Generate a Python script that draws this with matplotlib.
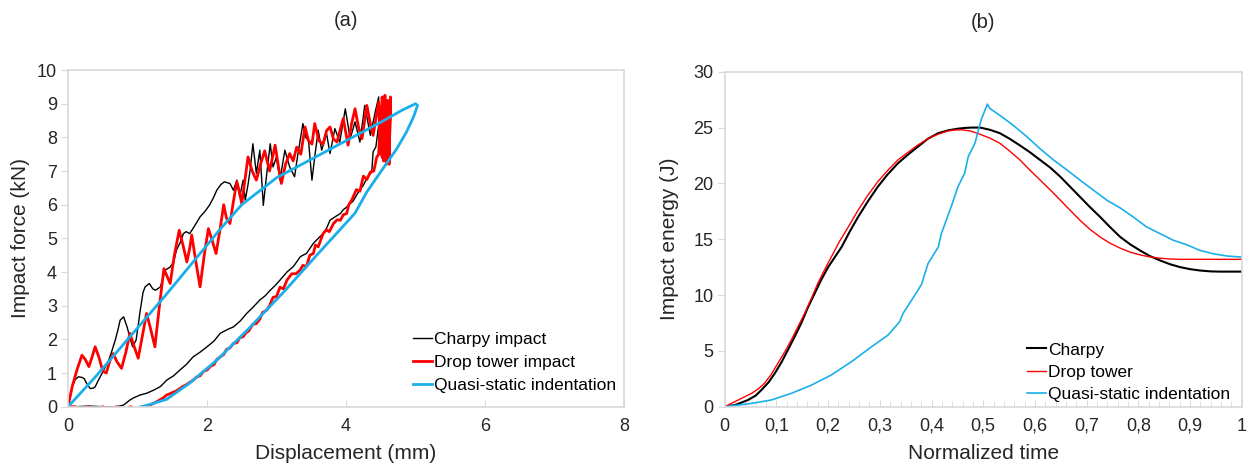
import matplotlib
matplotlib.use('Agg')
import matplotlib.pyplot as plt

plt.rcParams['font.family'] = ['Liberation Sans', 'DejaVu Sans']

# ---- (a) force vs displacement ----
charpy_x = [0, 0.06, 0.1, 0.15, 0.2, 0.23, 0.28, 0.32, 0.36, 0.39, 0.44, 0.49, 0.54, 0.585, 0.63, 0.68, 0.72,
            0.75, 0.8, 0.85, 0.9, 0.93, 0.98, 1.04, 1.08, 1.11, 1.17, 1.22, 1.26, 1.33, 1.4, 1.47, 1.52, 1.56,
            1.62, 1.66, 1.7, 1.75, 1.8, 1.86, 1.9, 1.97, 2.04, 2.1, 2.14, 2.2, 2.25, 2.3, 2.33, 2.38, 2.43, 2.47,
            2.52, 2.55, 2.59, 2.62, 2.66, 2.71, 2.76, 2.81, 2.86, 2.91, 2.95, 3.0, 3.05, 3.12, 3.19, 3.26, 3.3,
            3.34, 3.38, 3.42, 3.46, 3.51, 3.55, 3.6, 3.65, 3.72, 3.77, 3.84, 3.91, 3.99, 4.06, 4.13, 4.2, 4.27,
            4.35, 4.42, 4.47, 4.47, 4.43, 4.39, 4.37, 4.3, 4.25, 4.18, 4.1, 4.04, 4.01, 3.96, 3.92, 3.85, 3.77,
            3.72, 3.67, 3.6, 3.53, 3.48, 3.43, 3.38, 3.34, 3.29, 3.24, 3.15, 3.05, 2.98, 2.91, 2.84, 2.76, 2.66,
            2.57, 2.48, 2.38, 2.3, 2.19, 2.1, 2.0, 1.9, 1.8, 1.7, 1.61, 1.52, 1.42, 1.33, 1.23, 1.13, 1.04, 0.95,
            0.89, 0.8, 0.7, 0.5, 0.3, 0.1]
charpy_y = [0, 0.59, 0.8, 0.89, 0.87, 0.84, 0.65, 0.54, 0.55, 0.59, 0.8, 0.99, 1.2, 1.38, 1.65, 1.98, 2.3,
            2.57, 2.67, 2.37, 1.98, 1.78, 1.98, 2.87, 3.4, 3.56, 3.66, 3.5, 3.46, 3.56, 4.06, 4.15, 4.3, 4.65,
            4.9, 5.14, 5.2, 5.14, 5.3, 5.5, 5.64, 5.8, 6.0, 6.24, 6.43, 6.6, 6.68, 6.65, 6.63, 6.43, 6.73, 6.23,
            6.73, 6.13, 6.6, 7.02, 7.81, 6.93, 7.62, 5.98, 6.93, 7.81, 7.12, 7.42, 6.73, 7.62, 7.12, 6.83, 7.4,
            7.91, 8.41, 8.0, 7.91, 6.73, 7.42, 8.21, 7.62, 8.11, 7.52, 8.26, 7.86, 8.85, 7.96, 8.46, 7.86, 8.95,
            8.06, 8.75, 9.2, 8.36, 7.72, 7.57, 6.97, 6.78, 6.58, 6.38, 6.1, 6.0, 5.93, 5.85, 5.74, 5.65, 5.54,
            5.3, 5.14, 5.0, 4.85, 4.7, 4.55, 4.5, 4.45, 4.3, 4.16, 4.0, 3.76, 3.6, 3.46, 3.3, 3.17, 2.95,
            2.77, 2.55, 2.37, 2.3, 2.18, 1.95, 1.78, 1.62, 1.48, 1.25, 1.09, 0.92, 0.79, 0.6, 0.49, 0.4, 0.35, 0.27,
            0.2, 0.05, 0.0, 0.0, 0.02, 0.0]

drop_x = [0, 0.06, 0.13, 0.2, 0.25, 0.3, 0.35, 0.39, 0.44, 0.5, 0.55, 0.6, 0.65, 0.7, 0.77, 0.83, 0.89, 0.95,
          1.01, 1.07, 1.13, 1.19, 1.25, 1.31, 1.38, 1.43, 1.47, 1.53, 1.6, 1.66, 1.71, 1.75, 1.78, 1.84, 1.9,
          1.96, 2.02, 2.08, 2.13, 2.19, 2.24, 2.28, 2.33, 2.38, 2.43, 2.47, 2.5, 2.55, 2.59, 2.65, 2.71, 2.77,
          2.83, 2.9, 2.98, 3.03, 3.07, 3.13, 3.19, 3.24, 3.29, 3.35, 3.41, 3.46, 3.51, 3.55, 3.61, 3.67, 3.72,
          3.77, 3.82, 3.87, 3.96, 4.03, 4.08, 4.13, 4.18, 4.23, 4.3, 4.35, 4.39, 4.47, 4.5, 4.52, 4.54, 4.56,
          4.58, 4.6, 4.62, 4.64, 4.62, 4.6, 4.57, 4.55, 4.52, 4.5, 4.47, 4.44, 4.4, 4.35, 4.3, 4.25, 4.2, 4.15,
          4.08, 4.04, 4.01, 3.96, 3.92, 3.87, 3.82, 3.76, 3.72, 3.67, 3.6, 3.56, 3.53, 3.48, 3.43, 3.38, 3.34,
          3.28, 3.22, 3.15, 3.1, 3.05, 3.0, 2.95, 2.9, 2.86, 2.8, 2.76, 2.71, 2.66, 2.6, 2.56, 2.52, 2.47, 2.43,
          2.38, 2.33, 2.28, 2.24, 2.19, 2.14, 2.1, 2.05, 2.0, 1.95, 1.9, 1.85, 1.8, 1.75, 1.7, 1.65, 1.61, 1.55,
          1.5, 1.46, 1.42, 1.37, 1.32, 1.25, 1.18, 1.08, 1.0, 0.9, 0.8, 0.7, 0.6, 0.5, 0.4, 0.3, 0.2, 0.1, 0.03]
drop_y = [0, 0.6, 1.1, 1.53, 1.4, 1.19, 1.5, 1.78, 1.5, 1.06, 1.0, 1.35, 1.58, 1.35, 1.14, 1.6, 2.18, 1.8,
          1.44, 2.1, 2.77, 2.3, 1.78, 2.9, 4.1, 3.85, 3.66, 4.5, 5.24, 4.75, 4.3, 4.7, 5.1, 4.3, 3.56,
          4.5, 5.29, 4.9, 4.55, 5.3, 6.0, 5.6, 5.44, 6.1, 6.68, 6.35, 6.03, 6.8, 7.42, 7.0, 6.73, 7.2,
          7.6, 7.0, 7.77, 7.1, 6.63, 7.2, 7.52, 7.3, 7.71, 7.5, 8.31, 7.9, 7.8, 8.41, 7.9, 7.8, 8.2,
          8.31, 7.95, 7.86, 8.56, 7.77, 8.4, 8.85, 8.3, 7.96, 8.95, 8.4, 8.06, 9.05, 7.5, 9.2, 7.3, 9.25,
          7.2, 9.1, 7.4, 9.2, 7.2, 9.0, 7.3, 9.1, 7.4, 8.9, 7.5, 7.4, 7.0, 6.97, 6.75, 6.85, 6.4, 6.45,
          6.13, 6.0, 5.74, 5.7, 5.54, 5.55, 5.44, 5.2, 5.25, 5.14, 4.75, 4.8, 4.55, 4.5, 4.16, 4.2, 4.06,
          3.95, 3.95, 3.76, 3.5, 3.55, 3.27, 3.25, 3.0, 2.87, 2.8, 2.6, 2.47, 2.45, 2.25, 2.2, 2.08, 2.05, 1.9,
          1.88, 1.75, 1.7, 1.55, 1.48, 1.4, 1.25, 1.2, 1.09, 1.05, 0.92, 0.88, 0.79, 0.72, 0.65, 0.6, 0.54, 0.46,
          0.42, 0.38, 0.35, 0.26, 0.2, 0.12, 0.05, 0.0, -0.1, 0.0, -0.1, 0.0, -0.1, 0.0, -0.1, 0.0, -0.1, 0.0, 0.0]

quasi_x = [0, 0.4, 0.9, 1.4, 1.9, 2.2, 2.5, 3.0, 3.5, 4.0, 4.5, 4.8, 5.0, 5.03,
           4.97, 4.87, 4.73, 4.5, 4.3, 4.13, 3.6, 3.1, 2.6, 2.15, 1.75, 1.42, 1.1, 1.05]
quasi_y = [0, 0.9, 2.1, 3.3, 4.55, 5.3, 6.0, 6.8, 7.35, 7.9, 8.45, 8.8, 9.0, 8.95,
           8.6, 8.16, 7.66, 6.98, 6.38, 5.75, 4.55, 3.4, 2.32, 1.4, 0.7, 0.22, 0.02, 0]

# ---- (b) energy vs normalized time ----
charpy_t = [0, 0.02, 0.045, 0.06, 0.071, 0.085, 0.097, 0.11, 0.122, 0.135, 0.148, 0.16, 0.174, 0.187, 0.2,
            0.213, 0.226, 0.242, 0.258, 0.277, 0.296, 0.315, 0.335, 0.355, 0.374, 0.393, 0.413, 0.432,
            0.451, 0.465, 0.477, 0.494, 0.513, 0.532, 0.551, 0.571, 0.59, 0.61, 0.63, 0.649, 0.668, 0.687,
            0.706, 0.726, 0.745, 0.765, 0.784, 0.803, 0.822, 0.842, 0.862, 0.881, 0.9, 0.919, 0.94, 0.958,
            0.98, 1.0]
charpy_e = [0, 0.15, 0.6, 1.0, 1.5, 2.2, 3.0, 4.0, 5.07, 6.25, 7.47, 8.8, 10.15, 11.4, 12.5,
            13.4, 14.3, 15.7, 17.0, 18.4, 19.7, 20.8, 21.8, 22.6, 23.3, 24.0, 24.5, 24.75,
            24.9, 24.97, 25.0, 25.0, 24.8, 24.5, 24.0, 23.4, 22.8, 22.1, 21.4, 20.6, 19.7, 18.8,
            17.9, 17.0, 16.1, 15.2, 14.55, 14.0, 13.5, 13.1, 12.75, 12.5, 12.32, 12.2, 12.12, 12.1,
            12.1, 12.1]
drop_t = [0, 0.026, 0.052, 0.065, 0.077, 0.09, 0.103, 0.116, 0.129, 0.142, 0.155, 0.168, 0.18, 0.193,
          0.206, 0.222, 0.239, 0.258, 0.277, 0.296, 0.316, 0.335, 0.355, 0.374, 0.393, 0.412, 0.432,
          0.445, 0.458, 0.475, 0.494, 0.513, 0.532, 0.551, 0.571, 0.59, 0.61, 0.63, 0.649, 0.668, 0.687,
          0.706, 0.726, 0.745, 0.765, 0.784, 0.803, 0.822, 0.842, 0.862, 0.881, 0.92, 0.96, 1.0]
drop_e = [0, 0.6, 1.2, 1.6, 2.1, 2.9, 3.9, 4.9, 6.0, 7.2, 8.4, 9.75, 11.05, 12.25,
          13.4, 14.8, 16.1, 17.6, 18.95, 20.15, 21.2, 22.1, 22.8, 23.45, 24.0, 24.4, 24.7,
          24.78, 24.8, 24.7, 24.4, 24.05, 23.6, 22.9, 22.1, 21.2, 20.3, 19.4, 18.5, 17.6, 16.7,
          15.9, 15.2, 14.65, 14.2, 13.85, 13.6, 13.42, 13.3, 13.23, 13.2, 13.2, 13.2, 13.2]
quasi_t = [0, 0.052, 0.09, 0.129, 0.168, 0.206, 0.245, 0.284, 0.316, 0.338, 0.345, 0.374, 0.381, 0.393,
           0.413, 0.419, 0.438, 0.451, 0.464, 0.471, 0.484, 0.496, 0.508, 0.513, 0.532, 0.558, 0.584,
           0.61, 0.636, 0.662, 0.687, 0.713, 0.739, 0.765, 0.79, 0.816, 0.842, 0.868, 0.894, 0.919,
           0.945, 0.971, 1.0]
quasi_e = [0, 0.3, 0.6, 1.2, 1.94, 2.84, 4.03, 5.37, 6.42, 7.6, 8.36, 10.45, 11.0, 12.8,
           14.3, 15.5, 17.9, 19.7, 20.9, 22.4, 23.6, 25.7, 27.1, 26.7, 26.1, 25.2, 24.2,
           23.1, 22.1, 21.2, 20.3, 19.4, 18.5, 17.8, 17.0, 16.1, 15.5, 14.9, 14.5, 14.0,
           13.7, 13.5, 13.4]

t_ticks = [0, 0.1, 0.2, 0.3, 0.4, 0.5, 0.6, 0.7, 0.8, 0.9, 1]
t_labels = ['0', '0,1', '0,2', '0,3', '0,4', '0,5', '0,6', '0,7', '0,8', '0,9', '1']

BLACK = '#000000'
RED = '#FF0000'
BLUE = '#1AAFEA'
FRAME = '#D9D9D9'
TXT = '#262626'

fig = plt.figure(figsize=(12.48, 4.72), dpi=100)
ax1 = fig.add_axes([0.0545, 0.1383, 0.4455, 0.7133])
ax2 = fig.add_axes([0.5807, 0.1383, 0.4143, 0.7097])


def style(ax):
    for s in ax.spines.values():
        s.set_color(FRAME)
        s.set_linewidth(1.2)
    ax.tick_params(colors=FRAME, labelcolor=TXT, labelsize=13)
    ax.tick_params(axis='y', direction='out', length=5, pad=3)
    ax.tick_params(axis='x', direction='in', length=5, pad=8)


ax1.plot(charpy_x, charpy_y, color=BLACK, lw=1.0, label='Charpy impact')
ax1.plot(drop_x, drop_y, color=RED, lw=2.0, label='Drop tower impact')
ax1.plot(quasi_x, quasi_y, color=BLUE, lw=2.0, label='Quasi-static indentation')
ax1.set_xlim(0, 8)
ax1.set_ylim(0, 10)
ax1.set_xticks([0, 2, 4, 6, 8])
ax1.set_yticks(range(0, 11))
style(ax1)
ax1.set_xlabel('Displacement (mm)', fontsize=15, color=TXT)
ax1.set_ylabel('Impact force (kN)', fontsize=15, color=TXT)
ax1.xaxis.set_label_coords(0.5, -0.11)
ax1.yaxis.set_label_coords(-0.068, 0.5)
ax1.text(0.5, 1.148, '(a)', transform=ax1.transAxes, ha='center', va='center', fontsize=14.5, color=TXT)
ax1.legend(loc='lower left', bbox_to_anchor=(0.62, 0.04), frameon=False, fontsize=12.5,
           handlelength=1.1, handletextpad=0.1, labelspacing=0.45, borderpad=0, borderaxespad=0)

ax2.plot(charpy_t, charpy_e, color=BLACK, lw=1.5, label='Charpy')
ax2.plot(drop_t, drop_e, color=RED, lw=1.0, label='Drop tower')
ax2.plot(quasi_t, quasi_e, color=BLUE, lw=1.2, label='Quasi-static indentation')
ax2.set_xlim(0, 1)
ax2.set_ylim(0, 30)
ax2.set_xticks(t_ticks, t_labels)
ax2.set_xticks([i / 50 for i in range(51)], minor=True)
ax2.set_yticks([0, 5, 10, 15, 20, 25, 30])
style(ax2)
ax2.tick_params(axis='x', which='minor', direction='in', length=4, colors=FRAME)
ax2.set_xlabel('Normalized time', fontsize=15, color=TXT)
ax2.set_ylabel('Impact energy (J)', fontsize=15, color=TXT)
ax2.xaxis.set_label_coords(0.5, -0.11)
ax2.yaxis.set_label_coords(-0.089, 0.5)
ax2.text(0.5, 1.148, '(b)', transform=ax2.transAxes, ha='center', va='center', fontsize=14.5, color=TXT)
ax2.legend(loc='lower left', bbox_to_anchor=(0.585, 0.015), frameon=False, fontsize=12.5,
           handlelength=1.1, handletextpad=0.1, labelspacing=0.4, borderpad=0, borderaxespad=0)

fig.savefig('out.png', dpi=100)
